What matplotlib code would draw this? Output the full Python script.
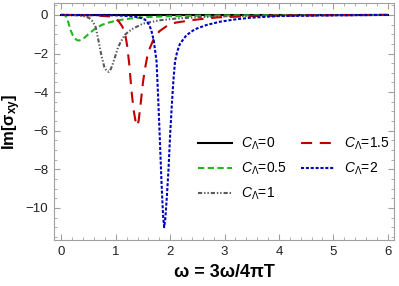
import numpy as np
import matplotlib
matplotlib.use("Agg")
import matplotlib.pyplot as plt
from matplotlib.ticker import MultipleLocator

plt.rcParams["font.family"] = ["Liberation Sans", "DejaVu Sans"]
plt.rcParams["mathtext.fontset"] = "custom"
plt.rcParams["mathtext.rm"] = "Liberation Sans"
plt.rcParams["mathtext.it"] = "Liberation Sans:italic"
plt.rcParams["mathtext.bf"] = "Liberation Sans:bold"
plt.rcParams["lines.scale_dashes"] = False

# values
x_c0 = [0.0, 6.0]
y_c0 = [0.0, 0.0]

x_c05 = [0.0, 0.05, 0.08, 0.11, 0.14, 0.17, 0.21, 0.25, 0.29, 0.32, 0.36, 0.43,
         0.52, 0.62, 0.74, 0.88, 1.02, 1.2, 1.4, 1.65, 2.0, 2.5, 3.0, 4.0, 5.0, 6.0]
y_c05 = [0.0, -0.01, -0.05, -0.22, -0.5, -0.8, -1.05, -1.22, -1.31, -1.33, -1.29, -1.17,
         -0.94, -0.72, -0.52, -0.39, -0.29, -0.21, -0.15, -0.1, -0.07, -0.04, -0.025, -0.012, -0.005, 0.0]

x_c1 = [0.0, 0.3, 0.45, 0.52, 0.58, 0.63, 0.68, 0.74, 0.79, 0.83, 0.87, 0.91, 0.95,
        0.99, 1.04, 1.09, 1.17, 1.3, 1.5, 1.8, 2.1, 2.5, 3.0, 4.0, 5.0, 6.0]
y_c1 = [0.0, -0.02, -0.08, -0.18, -0.35, -0.62, -1.3, -2.15, -2.7, -2.9, -2.95, -2.8, -2.5,
        -2.15, -1.7, -1.4, -1.02, -0.73, -0.45, -0.28, -0.19, -0.12, -0.07, -0.03, -0.012, 0.0]

x_c15 = [0.0, 0.6, 0.9, 1.0, 1.06, 1.12, 1.17, 1.21, 1.25, 1.29, 1.33, 1.36, 1.39,
         1.42, 1.46, 1.5, 1.54, 1.58, 1.63, 1.69, 1.8, 1.95, 2.1, 2.43, 2.86, 3.5, 4.5, 6.0]
y_c15 = [0.0, -0.02, -0.08, -0.2, -0.35, -0.6, -0.95, -1.6, -2.6, -3.95, -4.95, -5.45, -5.75,
         -5.5, -4.55, -3.5, -2.75, -2.15, -1.7, -1.3, -0.85, -0.55, -0.4, -0.26, -0.13, -0.06, -0.02, 0.0]

x_c2 = [0.0, 1.0, 1.3, 1.45, 1.54, 1.6, 1.65, 1.7, 1.75, 1.78, 1.81, 1.84, 1.87, 1.89,
        1.91, 1.94, 1.97, 2.0, 2.03, 2.06, 2.09, 2.13, 2.18, 2.3, 2.45, 2.67, 2.92, 3.2,
        3.5, 4.0, 5.0, 6.0]
y_c2 = [0.0, -0.02, -0.07, -0.14, -0.25, -0.45, -0.75, -1.35, -2.4, -4.3, -6.4, -8.6, -10.4, -11.0,
        -10.6, -9.4, -8.0, -6.2, -4.7, -3.4, -2.4, -1.9, -1.5, -1.05, -0.75, -0.52, -0.35, -0.23,
        -0.14, -0.06, -0.02, 0.0]

labels = [r"$C_{\Lambda}$=0", r"$C_{\Lambda}$=0.5", r"$C_{\Lambda}$=1",
          r"$C_{\Lambda}$=1.5", r"$C_{\Lambda}$=2"]

fig = plt.figure(figsize=(3.99, 2.86), dpi=100)
ax = fig.add_axes([0.135, 0.161, 0.853, 0.828])

lw = 1.5
ax.plot(x_c0, y_c0, color="black", lw=lw, label=labels[0])
ax.plot(x_c05, y_c05, color="#1fb81f", lw=lw, dashes=(4.5, 2.5), label=labels[1])
ax.plot(x_c1, y_c1, color="#5a5a5a", lw=lw, dashes=(3, 1.4, 1, 1.4, 1, 1.4), label=labels[2])
ax.plot(x_c15, y_c15, color="#c00000", lw=lw, dashes=(8, 5.5), label=labels[3])
ax.plot(x_c2, y_c2, color="#0000c0", lw=lw, dashes=(2.2, 1.3), label=labels[4])

ax.set_xlim(-0.138, 6.12)
ax.set_ylim(-11.66, 0.61)

ax.xaxis.set_major_locator(MultipleLocator(1))
ax.xaxis.set_minor_locator(MultipleLocator(0.2))
ax.yaxis.set_major_locator(MultipleLocator(2))
ax.yaxis.set_minor_locator(MultipleLocator(0.5))
ax.set_yticks(np.arange(-10, 1, 2))
ax.set_yticklabels(["\u221210", "\u22128", "\u22126", "\u22124", "\u22122", "0"])

for s in ax.spines.values():
    s.set_color("#a0a0a0")
    s.set_linewidth(0.8)
ax.tick_params(which="both", direction="in", top=True, right=True,
               color="#a0a0a0", labelsize=9.5, labelcolor="#222222")
ax.tick_params(which="major", length=4, width=0.8, pad=4)
ax.tick_params(which="minor", length=2, width=0.6)

ax.set_xlabel("\u03c9 = 3\u03c9/4\u03c0T", fontsize=13, fontweight="bold", labelpad=5)
ax.set_ylabel("Im[\u03c3$_{\\mathbf{xy}}$]", fontsize=12, fontweight="bold")
ax.yaxis.set_label_coords(-0.09, 0.5)

ax.legend(loc="upper left", bbox_to_anchor=(0.424, 0.44), ncol=2, frameon=False,
          fontsize=10, handlelength=2.45, handletextpad=0.65, columnspacing=1.0,
          labelspacing=0.62, borderaxespad=0, borderpad=0)

fig.savefig("out.png", dpi=100)
